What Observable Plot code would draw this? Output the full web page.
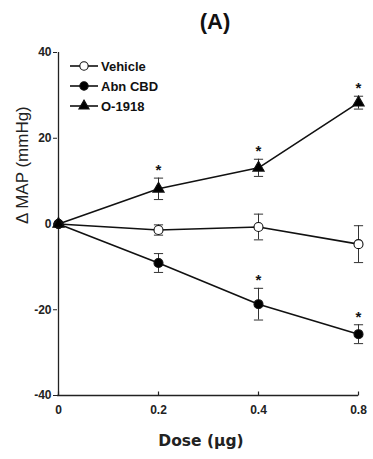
<!DOCTYPE html>
<html>
<head>
<meta charset="utf-8">
<script src="https://cdn.jsdelivr.net/npm/d3@7"></script>
<script src="https://cdn.jsdelivr.net/npm/@observablehq/plot@0.6"></script>
<style>
  body { margin: 0; background: #fff; }
  #wrap { position: relative; width: 373px; height: 459px; }
  #title { position: absolute; top: 9px; left: 215px; transform: translateX(-50%);
           font: bold 22px "Liberation Sans", Arial, sans-serif; color: #111; }
  #chart { position: absolute; top: 40px; left: 0; }
  #legend { position: absolute; top: 0; left: 0; }
</style>
</head>
<body>
<div id="wrap">
  <div id="title">(A)</div>
  <div id="chart"></div>
  <svg id="legend" width="373" height="130"></svg>
</div>
<script>
// Doses (µg), shown as evenly spaced categories
const doses = ["0", "0.2", "0.4", "0.8"];

// Mean change in MAP (mmHg) and SEM for each treatment
const vehicleMean = [0, -1.4, -0.7, -4.7];
const vehicleSem  = [0, 1.2, 3.0, 4.3];
const abnMean     = [0, -9.1, -18.7, -25.7];
const abnSem      = [0, 2.2, 3.7, 2.2];
const o1918Mean   = [0, 8.2, 13.1, 28.3];
const o1918Sem    = [0, 2.5, 2.0, 1.5];

// Doses marked as significant (*)
const abnSig   = ["0.4", "0.8"];
const o1918Sig = ["0.2", "0.4", "0.8"];

const yTicks = [-40, -20, 0, 20, 40];

const series = [
  {name: "Vehicle", mean: vehicleMean, sem: vehicleSem, symbol: "circle", fill: "white", sig: []},
  {name: "Abn CBD", mean: abnMean, sem: abnSem, symbol: "circle", fill: "black", sig: abnSig},
  {name: "O-1918", mean: o1918Mean, sem: o1918Sem, symbol: "triangle", fill: "black", sig: o1918Sig}
];

const rows = series.flatMap(s => doses.map((d, i) => ({
  series: s.name, dose: d, mean: s.mean[i], sem: s.sem[i],
  lo: s.mean[i] - s.sem[i], hi: s.mean[i] + s.sem[i],
  symbol: s.symbol, fill: s.fill, sig: s.sig.includes(d)
})));

// horizontal cap for error bars
const cap = {draw(ctx, size) { const w = Math.sqrt(size); ctx.moveTo(-w, 0); ctx.lineTo(w, 0); }};
// short upward tick for the x axis
const upTick = {draw(ctx, size) { ctx.moveTo(0, 0); ctx.lineTo(0, -4); }};

const tickFont = '"Liberation Sans", Arial, sans-serif';

const errRows = rows.filter(d => d.sem > 0);
const marks = [
  Plot.ruleX([0], {x: () => "0", y1: -40, y2: 40, stroke: "#222", strokeWidth: 1.3}),
  Plot.ruleY([-40], {strokeWidth: 1.3, stroke: "#222"}),
  Plot.dot(doses, {x: d => d, y: -40, symbol: upTick, stroke: "#222", strokeWidth: 1.2, r: 3}),
  ...series.map(s => Plot.line(rows.filter(r => r.series === s.name),
      {x: "dose", y: "mean", stroke: "#111", strokeWidth: 1.6})),
  Plot.ruleX(errRows, {x: "dose", y1: "lo", y2: "hi", stroke: "#333", strokeWidth: 1}),
  Plot.dot(errRows, {x: "dose", y: "lo", symbol: cap, r: 2.6, stroke: "#333", strokeWidth: 1}),
  Plot.dot(errRows, {x: "dose", y: "hi", symbol: cap, r: 2.6, stroke: "#333", strokeWidth: 1}),
  ...series.map(s => Plot.dot(rows.filter(r => r.series === s.name), {
      x: "dose", y: "mean", symbol: s.symbol, fill: s.fill, stroke: "#111",
      strokeWidth: 1.1, r: s.symbol === "triangle" ? 4.2 : 4.5})),
  Plot.text(rows.filter(r => r.sig), {x: "dose", y: "hi", text: () => "*", dy: -8,
      fontSize: 15, fontWeight: "bold", fill: "#111", lineAnchor: "middle"}),
  Plot.text(["Δ MAP (mmHg)"], {frameAnchor: "left", dx: -35, rotate: -90, fontSize: 17,
      fontWeight: "normal", fontFamily: '"Liberation Sans", Arial, sans-serif', fill: "#222"}),
  Plot.text(["Dose (µg)"], {frameAnchor: "bottom", dx: -7, dy: 50, fontSize: 15.5, fontWeight: "bold",
      fontFamily: '"DejaVu Sans", Verdana, sans-serif', fill: "#222"})
];

const chart = Plot.plot({
  width: 373,
  height: 419,
  marginTop: 12,
  marginBottom: 64,
  marginLeft: 57,
  marginRight: 15,
  style: {background: "white", color: "#222", fontFamily: tickFont, fontSize: "12px", fontWeight: "bold", overflow: "visible"},
  x: {type: "point", domain: doses, padding: 0, label: null, tickSize: 0, tickPadding: 10},
  y: {domain: [-40, 40], ticks: yTicks, tickFormat: d => String(d), label: null, tickSize: 4, tickPadding: 2},
  marks
});
document.getElementById("chart").appendChild(chart);

// Legend in the upper-left of the plot area
const legend = d3.select("#legend");
const lx = 84, ly0 = 66, step = 20;
series.forEach((s, i) => {
  const y = ly0 + i * step;
  const g = legend.append("g").attr("transform", `translate(${lx},${y})`);
  g.append("line").attr("x1", -14).attr("x2", 14).attr("stroke", "#111").attr("stroke-width", 1.6);
  const sym = s.symbol === "triangle" ? d3.symbolTriangle : d3.symbolCircle;
  const size = s.symbol === "triangle" ? 45 : 55;
  g.append("path").attr("d", d3.symbol(sym, size)())
    .attr("fill", s.fill).attr("stroke", "#111").attr("stroke-width", 1.1);
  g.append("text").attr("x", 17).attr("dy", "0.35em").text(s.name)
    .attr("font-family", tickFont).attr("font-weight", "bold").attr("font-size", 13).attr("fill", "#111");
});
</script>
</body>
</html>
